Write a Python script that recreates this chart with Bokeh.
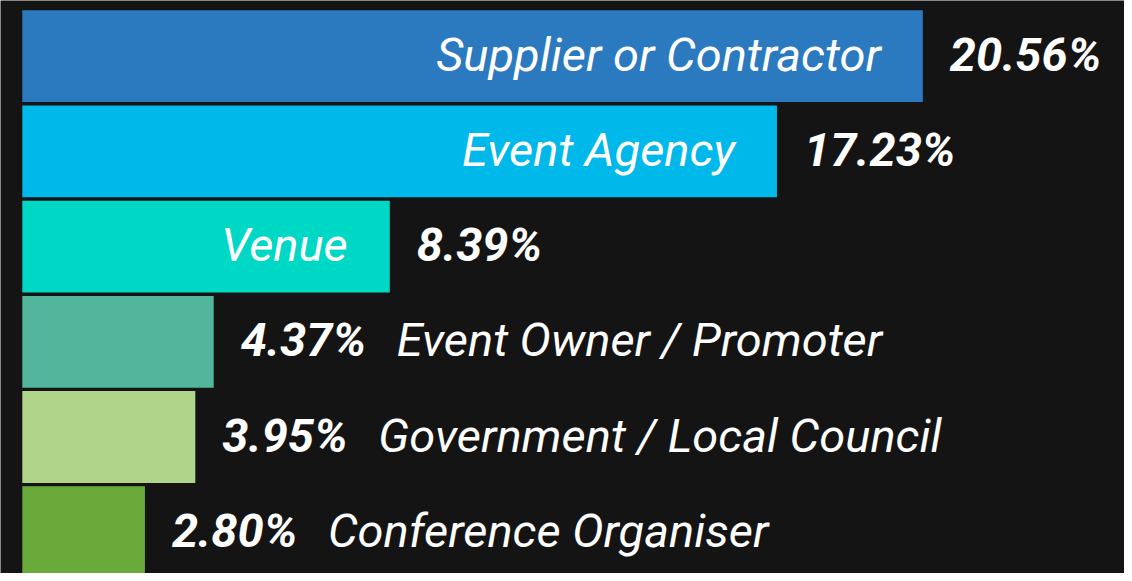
from bokeh.plotting import figure
from bokeh.models import ColumnDataSource, Range1d
from bokeh.embed import file_html
from bokeh.resources import INLINE
from bokeh.core.properties import value

categories = ["Supplier or Contractor", "Event Agency", "Venue",
              "Event Owner / Promoter", "Government / Local Council",
              "Conference Organiser"]
shares = [20.56, 17.23, 8.39, 4.37, 3.95, 2.80]
labels = ["20.56%", "17.23%", "8.39%", "4.37%", "3.95%", "2.80%"]
colors = ["#2B7ABF", "#00B8EA", "#00D8C6", "#52B69C", "#B0D48A", "#6AAA3A"]

W, H = 1124, 573
PX = 43.8          # pixels per percentage point
x_start = -21.8 / PX
x_end = x_start + W / PX
pitch = 95.2
y_top = -55.7 / pitch
y_bot = y_top + H / pitch

idx = list(range(len(categories)))
src = ColumnDataSource(dict(y=idx, v=shares, lab=labels, cat=categories, c=colors))

inside_idx = [i for i in idx if shares[i] > 5]
outside_idx = [i for i in idx if shares[i] <= 5]
src_in = ColumnDataSource(dict(y=[idx[i] for i in inside_idx], v=[shares[i] for i in inside_idx],
                               cat=[categories[i] for i in inside_idx]))
src_out = ColumnDataSource(dict(y=[idx[i] for i in outside_idx], v=[shares[i] for i in outside_idx],
                                cat=[categories[i] for i in outside_idx]))

p = figure(width=W, height=H, output_backend="svg", toolbar_location=None,
           x_range=Range1d(x_start, x_end), y_range=Range1d(y_bot, y_top),
           min_border=0, outline_line_color=None)
p.axis.visible = False
p.grid.visible = False
p.background_fill_color = "#141414"
p.border_fill_color = "#141414"

p.hbar(y="y", left=0, right="v", height=0.964, fill_color="c", line_color=None, source=src)

FONT = value("Roboto")
FS = "47px"
# value labels after each bar
p.text(x="v", y="y", text="lab", source=src, x_offset=27, y_offset=-2,
       text_color="white", text_font=FONT, text_font_size=FS,
       text_font_style="bold italic", text_align="left", text_baseline="middle")
# category labels inside long bars
p.text(x="v", y="y", text="cat", source=src_in, x_offset=-42, y_offset=-2,
       text_color="white", text_font=FONT, text_font_size=FS,
       text_font_style="italic", text_align="right", text_baseline="middle")
# category labels after value label for short bars
p.text(x="v", y="y", text="cat", source=src_out, x_offset=183, y_offset=-2,
       text_color="white", text_font=FONT, text_font_size=FS,
       text_font_style="italic", text_align="left", text_baseline="middle")

open("out.html", "w").write(file_html(p, INLINE))
